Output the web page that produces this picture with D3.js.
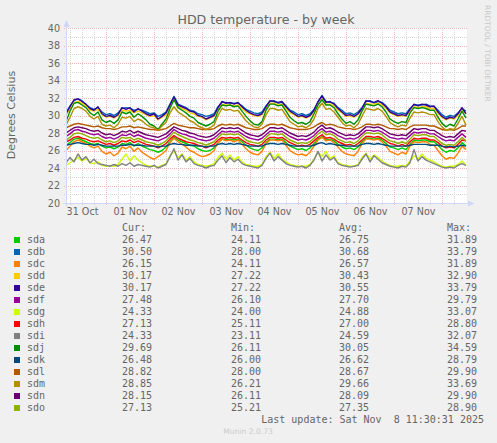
<!DOCTYPE html>
<html><head><meta charset="utf-8">
<script src="https://cdn.jsdelivr.net/npm/d3@7"></script>
<style>
html,body{margin:0;padding:0;background:#F0F0F0;}
svg{display:block;}
</style></head><body>
<svg id="c" width="497" height="443"></svg>
<script>
// ---------- data ----------
const chartTitle = "HDD temperature - by week";
const yAxisLabel = "Degrees Celsius";
const sideText = "RRDTOOL / TOBI OETIKER";
const lastUpdate = "Last update: Sat Nov  8 11:30:31 2025";
const versionText = "Munin 2.0.73";
const startTime = Date.UTC(2025, 9, 31, 4);   // Oct 31 04:00
const endTime = Date.UTC(2025, 10, 8, 12);    // Nov 8 12:00
const stepHours = 2;
const yTickValues = [20, 22, 24, 26, 28, 30, 32, 34, 36, 38, 40];
const dayLabelDays = [Date.UTC(2025,9,31), Date.UTC(2025,10,1), Date.UTC(2025,10,2), Date.UTC(2025,10,3),
                      Date.UTC(2025,10,4), Date.UTC(2025,10,5), Date.UTC(2025,10,6), Date.UTC(2025,10,7)];
const legendHeaders = ["Cur:", "Min:", "Avg:", "Max:"];
const drives = ["sda","sdb","sdc","sdd","sde","sdf","sdg","sdh","sdi","sdj","sdk","sdl","sdm","sdn","sdo"];
const driveColors = ["#00CC00","#0066B3","#FF8000","#FFCC00","#330099","#990099","#CCFF00","#FF0000",
                     "#808080","#008F00","#00487D","#B35A00","#B38F00","#6B006B","#8FB300"];
const curValues = [26.47,30.50,26.15,30.17,30.17,27.48,24.33,27.13,24.33,29.69,26.48,28.82,28.85,28.15,27.13];
const minValues = [24.11,28.00,24.11,27.22,27.22,26.10,24.00,25.11,23.11,26.11,26.00,28.00,26.21,26.11,25.21];
const avgValues = [26.75,30.68,26.57,30.43,30.55,27.70,24.88,27.00,24.59,30.05,26.62,28.67,29.66,28.09,27.35];
const maxValues = [31.89,33.79,31.89,32.90,33.79,29.79,33.07,28.80,32.07,34.59,28.79,29.90,33.69,29.90,28.90];

const sda = [26.6,26.9,27.3,27.4,27.2,27.0,26.8,26.7,26.8,26.5,
 26.3,26.4,26.2,26.4,26.8,26.7,26.9,26.5,26.8,26.5,
 26.3,26.1,26.0,25.8,26.0,26.4,27.0,27.5,27.2,27.0,
 26.8,26.6,26.5,26.2,26.0,25.9,26.0,26.3,26.9,27.3,
 27.2,27.3,27.2,27.3,27.0,26.6,26.3,26.1,26.0,26.3,
 26.9,27.3,27.3,27.2,27.3,26.9,26.5,26.3,26.1,26.2,
 26.0,26.3,26.8,27.3,27.6,27.2,27.3,27.1,26.7,26.4,
 26.2,26.3,26.1,26.4,27.0,27.4,27.4,27.3,27.4,27.2,
 26.8,26.4,26.3,26.1,26.3,26.1,26.7,27.2,27.1,27.2,
 27.2,27.0,27.0,26.6,26.1,25.8,26.0,25.9,26.3,26.9,
 26.5];
const sdb = [30.3,31.1,31.7,31.9,31.7,31.2,30.9,30.7,30.9,30.4,
 30.1,30.2,30.0,30.3,30.8,30.9,30.8,30.6,30.7,30.6,
 30.4,30.2,30.3,29.9,30.1,30.4,31.3,32.2,31.3,31.1,
 30.9,30.6,30.5,30.2,30.1,29.9,30.0,30.2,31.0,31.5,
 31.5,31.4,31.4,31.4,31.1,30.7,30.5,30.3,30.2,30.4,
 31.1,31.6,31.7,31.4,31.5,31.1,30.6,30.4,30.1,30.2,
 30.0,30.2,30.7,31.5,32.3,31.6,31.5,31.4,30.9,30.6,
 30.2,30.3,30.1,30.4,30.9,31.6,31.7,31.4,31.6,31.5,
 31.1,30.6,30.4,30.2,30.3,30.2,30.8,31.2,31.2,31.2,
 31.3,31.1,31.0,30.6,30.1,29.8,30.0,29.9,30.3,30.8,
 30.5];
const sdc = [26.0,26.5,27.0,27.2,27.0,26.8,26.5,26.3,26.5,25.9,
 25.6,25.8,25.4,25.7,26.4,26.2,26.5,25.9,26.3,25.8,
 25.5,25.2,25.0,25.3,25.6,26.0,26.9,27.4,27.0,26.7,
 26.4,26.0,25.8,25.5,25.3,25.4,25.6,26.0,26.9,27.3,
 27.1,27.2,27.0,27.2,26.7,26.2,25.8,25.6,25.5,25.9,
 26.8,27.2,27.2,27.1,27.2,26.6,26.0,25.7,25.5,25.6,
 25.4,25.8,26.5,27.2,27.5,27.1,27.2,26.9,26.4,25.9,
 25.6,25.5,25.4,25.9,26.8,27.3,27.3,27.2,27.3,27.0,
 26.5,25.9,25.7,25.5,25.8,25.6,26.5,27.0,26.9,27.0,
 27.0,26.7,26.6,26.0,25.4,25.0,25.2,25.1,25.7,26.5,
 26.1];
const sdd = [30.0,30.8,31.5,31.6,31.4,31.1,30.6,30.5,30.7,30.1,
 29.8,29.9,29.7,30.0,30.6,30.5,30.6,30.3,30.5,30.3,
 30.1,29.9,30.0,29.5,29.8,30.1,31.0,31.8,31.0,30.8,
 30.6,30.3,30.2,29.9,29.8,29.5,29.7,29.9,30.7,31.3,
 31.2,31.2,31.1,31.2,30.8,30.4,30.2,30.0,29.9,30.1,
 30.8,31.4,31.4,31.2,31.3,30.8,30.3,30.1,29.8,29.9,
 29.7,29.9,30.4,31.3,31.9,31.3,31.3,31.1,30.6,30.3,
 29.9,30.0,29.8,30.1,30.6,31.4,31.3,31.3,31.4,31.2,
 30.8,30.3,30.1,29.9,30.0,29.9,30.5,31.0,30.9,31.0,
 31.0,30.8,30.8,30.2,29.8,29.5,29.7,29.6,30.0,30.6,
 30.2];
const sde = [30.2,31.0,31.8,31.9,31.6,31.3,30.8,30.6,31.0,30.2,
 29.9,30.0,29.8,30.1,30.9,30.7,30.9,30.4,30.8,30.5,
 30.2,30.0,30.2,29.6,29.9,30.3,31.2,32.1,31.2,31.0,
 30.8,30.5,30.4,30.0,29.9,29.6,29.8,30.0,30.9,31.6,
 31.4,31.5,31.3,31.5,31.0,30.6,30.3,30.1,30.0,30.2,
 31.0,31.7,31.6,31.5,31.6,31.0,30.5,30.2,29.9,30.0,
 29.8,30.0,30.6,31.6,32.2,31.5,31.6,31.3,30.8,30.4,
 30.0,30.1,29.9,30.2,30.8,31.7,31.6,31.5,31.7,31.4,
 31.0,30.4,30.2,30.0,30.1,30.0,30.7,31.3,31.1,31.3,
 31.2,31.0,31.1,30.4,29.9,29.6,29.8,29.7,30.2,30.9,
 30.2];
const sdf = [27.6,27.9,28.3,28.4,28.2,28.1,27.9,27.8,27.9,27.6,
 27.4,27.5,27.3,27.5,27.8,27.7,27.9,27.6,27.8,27.6,
 27.4,27.3,27.2,27.1,27.3,27.5,27.9,28.4,28.1,27.9,
 27.8,27.6,27.5,27.3,27.2,27.1,27.2,27.4,27.8,28.2,
 28.1,28.2,28.1,28.2,27.9,27.6,27.4,27.3,27.2,27.4,
 27.8,28.2,28.2,28.1,28.2,27.9,27.6,27.4,27.2,27.3,
 27.2,27.4,27.7,28.2,28.5,28.1,28.2,28.0,27.7,27.5,
 27.3,27.4,27.3,27.5,27.9,28.3,28.3,28.2,28.3,28.1,
 27.8,27.5,27.4,27.3,27.4,27.3,27.7,28.1,28.0,28.1,
 28.1,27.9,27.9,27.6,27.3,27.1,27.2,27.1,27.5,27.9,
 27.5];
const sdg = [24.3,24.6,24.9,25.2,24.8,25.1,24.6,24.5,24.7,24.3,
 24.2,24.3,24.2,24.4,25.0,25.6,24.8,25.4,24.9,24.6,
 24.3,24.2,24.2,24.1,24.3,24.5,25.4,25.9,25.2,25.6,
 24.9,25.3,24.7,24.4,24.3,24.2,24.3,24.5,25.2,25.7,
 25.0,25.5,24.9,25.3,24.7,24.4,24.3,24.2,24.2,24.4,
 25.3,25.8,25.1,25.6,25.0,24.7,24.4,24.3,24.2,24.2,
 24.2,24.4,25.0,25.8,25.3,25.9,25.1,25.4,24.6,24.4,
 24.3,24.2,24.2,24.4,25.2,25.7,25.0,25.5,25.2,24.8,
 24.5,24.3,24.2,24.2,24.3,24.2,24.8,25.4,25.0,25.6,
 25.1,24.9,24.7,24.4,24.2,24.1,24.2,24.2,24.4,24.8,
 24.3];
const sdh = [27.0,27.2,27.5,27.6,27.4,27.3,27.1,27.0,27.1,26.9,
 26.7,26.8,26.6,26.8,27.1,27.0,27.2,26.9,27.1,26.9,
 26.7,26.6,26.5,26.3,26.5,26.8,27.3,27.7,27.4,27.2,
 27.0,26.9,26.8,26.6,26.5,26.3,26.5,26.7,27.2,27.5,
 27.4,27.5,27.4,27.5,27.2,26.9,26.7,26.6,26.5,26.7,
 27.2,27.5,27.5,27.4,27.5,27.2,26.9,26.7,26.5,26.6,
 26.5,26.7,27.1,27.5,27.8,27.4,27.5,27.3,27.0,26.8,
 26.6,26.7,26.5,26.8,27.2,27.6,27.6,27.5,27.6,27.4,
 27.1,26.8,26.7,26.5,26.7,26.5,27.0,27.4,27.3,27.4,
 27.4,27.2,27.2,26.9,26.5,26.3,26.4,26.3,26.7,27.2,
 27.1];
const sdi = [24.6,25.2,24.7,25.6,24.9,25.3,24.6,25.0,24.5,24.4,
 24.3,24.2,24.4,24.2,24.5,24.3,24.6,24.2,24.4,24.3,
 24.2,24.1,24.3,24.0,24.2,24.4,25.3,26.2,24.9,25.5,
 24.7,25.1,24.5,24.3,24.2,24.0,24.2,24.3,24.9,25.4,
 24.6,25.2,24.7,25.0,24.5,24.3,24.2,24.1,24.0,24.3,
 25.1,25.7,24.8,25.3,24.9,24.5,24.3,24.2,24.1,24.2,
 24.0,24.3,24.9,25.9,24.8,25.5,24.9,25.2,24.5,24.3,
 24.2,24.1,24.2,24.3,25.0,25.6,24.7,25.4,25.0,24.6,
 24.4,24.2,24.1,24.0,24.2,24.1,24.6,26.1,24.8,25.3,
 24.9,24.7,24.5,24.3,24.1,24.0,24.1,24.0,24.3,24.5,
 24.3];
const sdj = [29.3,30.5,31.4,31.5,31.2,30.9,30.3,30.0,30.4,29.5,
 29.2,29.4,29.1,29.5,30.4,30.2,30.4,29.8,30.2,29.9,
 29.5,29.0,28.8,28.4,29.0,29.6,30.8,31.8,30.9,30.6,
 30.3,29.9,29.7,29.2,29.0,28.8,29.0,29.3,30.5,31.2,
 31.1,31.2,31.0,31.1,30.5,29.9,29.4,29.0,28.9,29.3,
 30.6,31.3,31.3,31.1,31.2,30.5,29.8,29.4,29.1,29.2,
 29.0,29.3,30.2,31.2,31.8,31.2,31.2,30.9,30.2,29.6,
 29.1,29.3,29.0,29.5,30.5,31.3,31.2,31.1,31.3,31.0,
 30.4,29.6,29.3,29.1,29.3,29.2,30.3,30.9,30.8,30.9,
 30.8,30.6,30.6,29.8,29.1,28.7,29.0,28.8,29.6,30.5,
 29.7];
const sdk = [26.6,26.7,26.8,26.9,26.8,26.7,26.7,26.6,26.7,26.6,
 26.5,26.5,26.5,26.5,26.6,26.6,26.7,26.6,26.6,26.6,
 26.5,26.5,26.5,26.4,26.5,26.5,26.7,26.8,26.7,26.7,
 26.6,26.6,26.6,26.5,26.5,26.4,26.5,26.5,26.7,26.8,
 26.7,26.8,26.7,26.8,26.7,26.6,26.5,26.5,26.5,26.5,
 26.7,26.8,26.8,26.7,26.8,26.7,26.6,26.5,26.5,26.5,
 26.5,26.5,26.6,26.8,26.9,26.7,26.8,26.7,26.6,26.6,
 26.5,26.5,26.5,26.5,26.7,26.8,26.8,26.7,26.8,26.7,
 26.6,26.5,26.5,26.5,26.5,26.5,26.6,26.7,26.7,26.7,
 26.7,26.6,26.6,26.6,26.5,26.4,26.5,26.4,26.5,26.6,
 26.5];
const sdl = [28.6,28.8,29.0,29.1,29.0,28.9,28.8,28.7,28.8,28.6,
 28.5,28.5,28.4,28.5,28.7,28.7,28.8,28.6,28.7,28.6,
 28.5,28.4,28.4,28.3,28.4,28.5,28.8,29.1,28.9,28.8,
 28.7,28.6,28.6,28.5,28.4,28.4,28.4,28.5,28.8,29.0,
 28.9,29.0,28.9,29.0,28.8,28.6,28.5,28.4,28.4,28.5,
 28.8,29.0,29.0,28.9,29.0,28.8,28.6,28.5,28.4,28.4,
 28.4,28.5,28.7,29.0,29.2,28.9,29.0,28.9,28.7,28.6,
 28.5,28.5,28.4,28.5,28.7,29.0,29.0,28.9,29.0,28.9,
 28.7,28.5,28.5,28.4,28.5,28.4,28.7,28.9,28.9,28.9,
 28.9,28.8,28.8,28.6,28.4,28.3,28.4,28.3,28.5,28.8,
 28.8];
const sdm = [28.9,29.8,30.8,31.0,30.8,30.5,29.9,29.6,29.9,29.0,
 28.8,28.9,28.6,29.0,29.8,29.7,29.9,29.3,29.6,29.4,
 29.0,28.7,28.6,28.3,28.8,29.2,30.3,31.0,30.4,30.1,
 29.8,29.4,29.2,28.8,28.6,28.4,28.6,28.9,30.0,30.8,
 30.6,30.7,30.5,30.6,30.0,29.4,29.0,28.7,28.6,29.0,
 30.1,30.8,30.8,30.6,30.7,30.0,29.3,29.0,28.7,28.8,
 28.6,28.9,29.6,30.8,31.4,30.7,30.8,30.4,29.8,29.2,
 28.8,28.9,28.6,29.0,29.9,30.8,30.7,30.6,30.8,30.5,
 29.9,29.2,28.9,28.7,28.9,28.8,29.7,30.4,30.3,30.4,
 30.3,30.1,30.1,29.3,28.7,28.3,28.5,28.4,29.1,29.9,
 28.9];
const sdn = [28.0,28.3,28.6,28.7,28.6,28.5,28.3,28.2,28.3,28.0,
 27.8,27.9,27.7,27.9,28.2,28.1,28.3,28.0,28.2,28.0,
 27.8,27.7,27.6,27.5,27.7,27.9,28.3,28.7,28.5,28.3,
 28.2,28.0,27.9,27.7,27.6,27.5,27.6,27.8,28.2,28.6,
 28.5,28.6,28.5,28.6,28.3,28.0,27.8,27.7,27.6,27.8,
 28.2,28.6,28.6,28.5,28.6,28.3,28.0,27.8,27.6,27.7,
 27.6,27.8,28.1,28.6,28.9,28.5,28.6,28.4,28.1,27.9,
 27.7,27.8,27.7,27.9,28.3,28.7,28.7,28.6,28.7,28.5,
 28.2,27.9,27.8,27.7,27.8,27.7,28.1,28.5,28.4,28.5,
 28.5,28.3,28.3,28.0,27.7,27.5,27.6,27.5,27.9,28.3,
 28.2];
const sdo = [27.2,27.5,27.9,28.0,27.9,27.7,27.5,27.4,27.5,27.2,
 27.0,27.1,26.9,27.1,27.5,27.4,27.5,27.2,27.4,27.2,
 27.0,26.9,26.8,26.6,26.8,27.1,27.6,28.1,27.8,27.6,
 27.4,27.2,27.1,26.9,26.8,26.6,26.8,27.0,27.5,27.9,
 27.8,27.9,27.8,27.9,27.6,27.2,27.0,26.9,26.8,27.0,
 27.5,27.9,27.9,27.8,27.9,27.5,27.2,27.0,26.8,26.9,
 26.8,27.0,27.4,27.9,28.2,27.8,27.9,27.7,27.3,27.1,
 26.9,27.0,26.8,27.1,27.6,28.0,28.0,27.9,28.0,27.8,
 27.4,27.1,27.0,26.8,27.0,26.8,27.3,27.8,27.7,27.8,
 27.8,27.6,27.6,27.2,26.8,26.6,26.7,26.6,27.0,27.5,
 27.1];
const seriesValues = [sda,sdb,sdc,sdd,sde,sdf,sdg,sdh,sdi,sdj,sdk,sdl,sdm,sdn,sdo];

// ---------- drawing ----------
const svg = d3.select("#c");
const FONT = "#666666", AXISC = "#CFD6F8";
const plotL = 66, plotR = 466, plotT = 28, plotB = 203;
const x = d3.scaleUtc().domain([new Date(startTime), new Date(endTime)]).range([plotL, plotR]);
const y = d3.scaleLinear().domain([20, 40]).range([plotB, plotT]);
const times = d3.range(sda.length).map(i => new Date(startTime + i * stepHours * 3600e3));

svg.append("rect").attr("width", 497).attr("height", 443).attr("fill", "#F0F0F0");
svg.append("rect").attr("x", plotL).attr("y", plotT).attr("width", plotR - plotL + 1).attr("height", plotB - plotT)
  .attr("fill", "#FFFFFF");

const MINORC = "#D6D6D6", MAJORC = "#F2B4B4";
const grid = svg.append("g").attr("shape-rendering", "crispEdges");
const minorTimes = d3.utcHour.every(6).range(new Date(startTime), new Date(endTime))
  .filter(d => d.getUTCHours() !== 0);
grid.selectAll(".mv").data(minorTimes).join("line")
  .attr("x1", d => Math.round(x(d)) + 0.5).attr("x2", d => Math.round(x(d)) + 0.5)
  .attr("y1", plotT).attr("y2", plotB + 2)
  .attr("stroke", MINORC).attr("stroke-dasharray", "1,1");
const minorY = d3.range(21, 40, 1).filter(v => v % 2 !== 0);
grid.selectAll(".mh").data(minorY).join("line")
  .attr("x1", plotL - 2).attr("x2", plotR + 1)
  .attr("y1", d => Math.round(y(d)) + 0.5).attr("y2", d => Math.round(y(d)) + 0.5)
  .attr("stroke", MINORC).attr("stroke-dasharray", "1,1");
const majorTimes = d3.utcDay.range(new Date(startTime), new Date(endTime));
grid.selectAll(".Mv").data(majorTimes).join("line")
  .attr("x1", d => Math.round(x(d)) + 0.5).attr("x2", d => Math.round(x(d)) + 0.5)
  .attr("y1", plotT).attr("y2", plotB + 3)
  .attr("stroke", MAJORC).attr("stroke-dasharray", "1,1");
grid.selectAll(".Mh").data(yTickValues.filter(v => v > 20)).join("line")
  .attr("x1", plotL - 2).attr("x2", plotR + 1)
  .attr("y1", d => Math.round(y(d)) + 0.5).attr("y2", d => Math.round(y(d)) + 0.5)
  .attr("stroke", MAJORC).attr("stroke-dasharray", "1,1");

// series lines
svg.append("clipPath").attr("id", "clip").append("rect")
  .attr("x", plotL).attr("y", plotT).attr("width", plotR - plotL + 1).attr("height", plotB - plotT);
const line = d3.line().x((d, i) => x(times[i])).y(d => y(d)).curve(d3.curveLinear);
const lines = svg.append("g").attr("clip-path", "url(#clip)");
seriesValues.forEach((vals, k) => {
  lines.append("path").datum(vals).attr("d", line)
    .attr("fill", "none").attr("stroke", driveColors[k]).attr("stroke-width", 1.4)
    .attr("stroke-linejoin", "round");
});

// axes lines + arrows
svg.append("line").attr("x1", plotL + 0.5).attr("x2", plotL + 0.5).attr("y1", plotB + 3).attr("y2", 24)
  .attr("stroke", AXISC).attr("stroke-width", 1);
svg.append("path").attr("d", `M${plotL - 2.5},27 L${plotL + 3.5},27 L${plotL + 0.5},20 Z`).attr("fill", AXISC);
svg.append("line").attr("x1", plotL - 3).attr("x2", 470).attr("y1", plotB + 0.5).attr("y2", plotB + 0.5)
  .attr("stroke", AXISC).attr("stroke-width", 1);
svg.append("path").attr("d", `M468,${plotB - 2.5} L468,${plotB + 3.5} L474.5,${plotB + 0.5} Z`).attr("fill", AXISC);

// y axis labels
const yAxis = svg.append("g").attr("transform", `translate(${plotL},0)`)
  .call(d3.axisLeft(y).tickValues(yTickValues).tickSize(0).tickPadding(6).tickFormat(d3.format("d")));
yAxis.select(".domain").remove();
yAxis.selectAll("text").attr("fill", FONT).attr("font-family", "DejaVu Sans").attr("font-size", "9.6px");

// x axis labels at noon of each day
const xAxis = svg.append("g").attr("transform", `translate(0,${plotB})`)
  .call(d3.axisBottom(x).tickValues(dayLabelDays.map(d => new Date(d + 12 * 3600e3)))
    .tickSize(0).tickPadding(5).tickFormat(d3.utcFormat("%d %b")));
xAxis.select(".domain").remove();
xAxis.selectAll("text").attr("fill", FONT).attr("font-family", "DejaVu Sans").attr("font-size", "9.6px");

// title
svg.append("text").attr("x", 266).attr("y", 24).attr("text-anchor", "middle")
  .attr("font-family", "DejaVu Sans").attr("font-size", "12.6px").attr("fill", FONT).text(chartTitle);
// y label
svg.append("text").attr("transform", "translate(15,115) rotate(-90)").attr("text-anchor", "middle")
  .attr("font-family", "DejaVu Sans").attr("font-size", "11px").attr("fill", FONT).text(yAxisLabel);
// side text
svg.append("text").attr("transform", "translate(485,5) rotate(90)").attr("text-anchor", "start")
  .attr("font-family", "DejaVu Sans").attr("font-size", "7.5px").attr("fill", "#C8C8C8").text(sideText);

// legend
const mono = "DejaVu Sans Mono";
const colX = [122, 231, 339, 447];
const leg = svg.append("g").attr("font-family", mono).attr("font-size", "10px").attr("fill", FONT);
legendHeaders.forEach((h, j) => leg.append("text").attr("x", colX[j]).attr("y", 231).text(h));
const fmt = d3.format(".2f");
drives.forEach((name, k) => {
  const by = 243.3 + k * 12;
  leg.append("rect").attr("x", 14).attr("y", by - 6.3).attr("width", 6).attr("height", 6)
    .attr("fill", driveColors[k]);
  leg.append("text").attr("x", 27).attr("y", by).text(name);
  [curValues[k], minValues[k], avgValues[k], maxValues[k]].forEach((v, j) =>
    leg.append("text").attr("x", colX[j]).attr("y", by).text(fmt(v)));
});
leg.append("text").attr("x", 484).attr("y", 423).attr("text-anchor", "end")
  .attr("xml:space", "preserve").style("white-space", "pre").text(lastUpdate);
svg.append("text").attr("x", 248).attr("y", 434).attr("text-anchor", "middle")
  .attr("font-family", "DejaVu Sans").attr("font-size", "7.6px").attr("fill", "#CCCCCC").text(versionText);
</script>
</body></html>
